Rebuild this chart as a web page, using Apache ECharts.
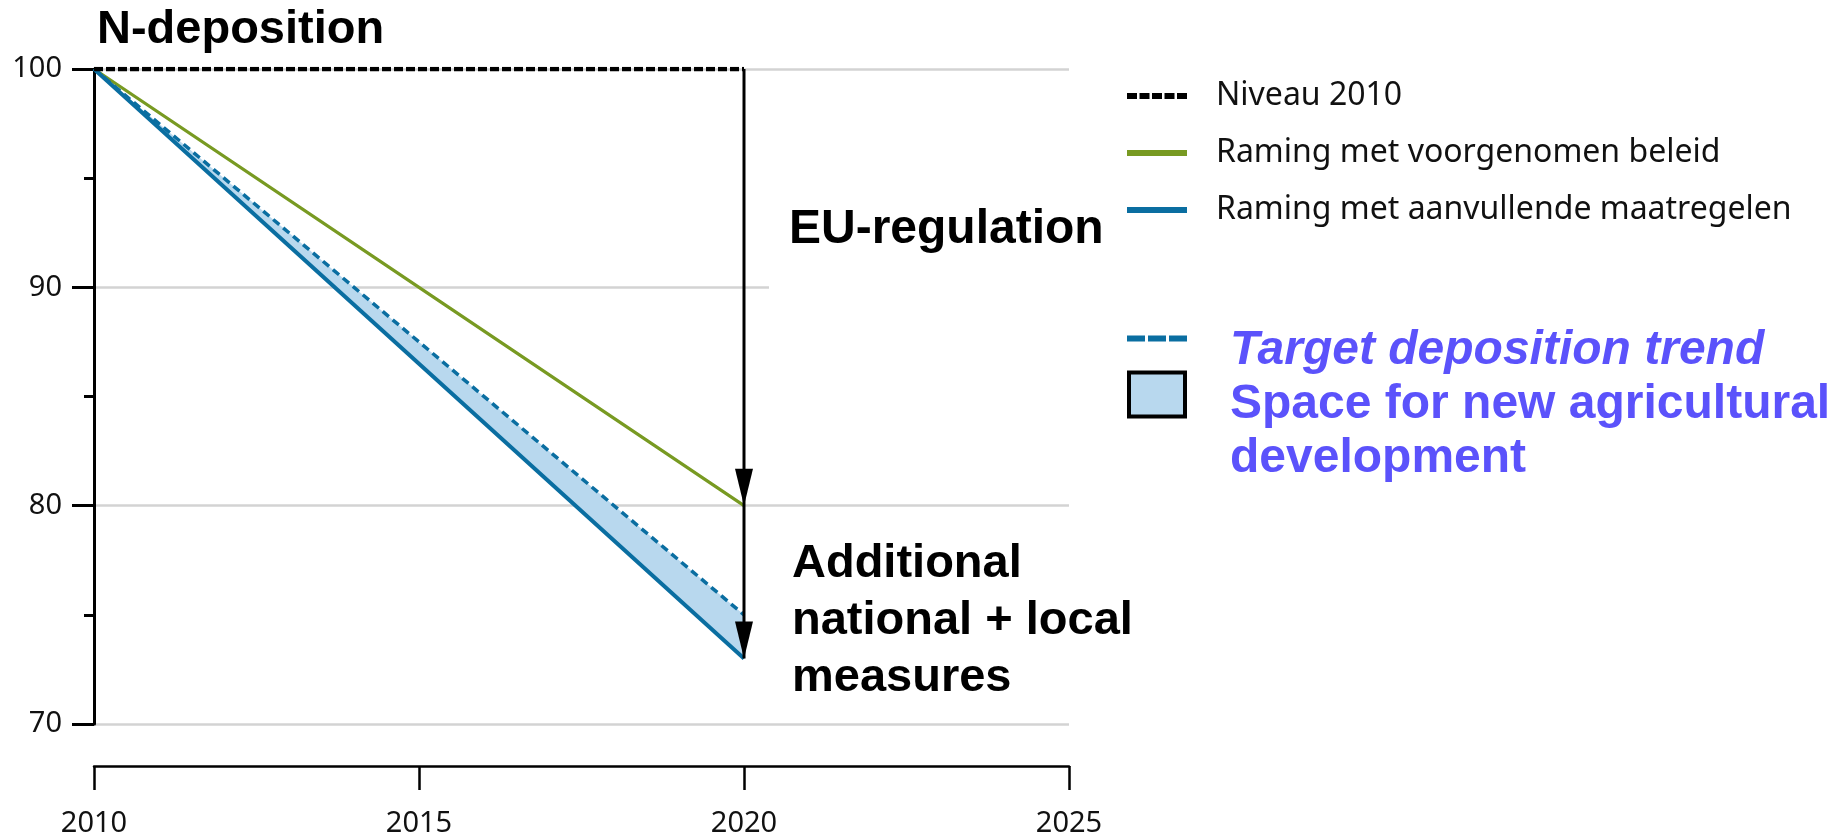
<!DOCTYPE html>
<html>
<head>
<meta charset="utf-8">
<script src="https://cdn.jsdelivr.net/npm/echarts@6/dist/echarts.min.js"></script>
<style>
html,body{margin:0;padding:0;background:#fff;}
#chart{width:1846px;height:838px;}
</style>
</head>
<body>
<div id="chart"></div>
<script>
// ---- data ----
const xCategories = ['2010', '2015', '2020', '2025'];   // x tick labels
const years = ['2010', '2015', '2020'];                  // years with values
const niveau2010 = [100, 100, 100];
const voorgenomen = [100, 90, 80];
const aanvullende = [100, 86.5, 73];
const target = [100, 87.5, 75];
const yTicks = [70, 80, 90, 100];
const arrowYear = '2020';
const arrowStops = [100, 80, 73];

const names = {
  niveau: 'Niveau 2010',
  voor: 'Raming met voorgenomen beleid',
  aanv: 'Raming met aanvullende maatregelen',
  target: 'Target deposition trend',
  space: 'Space for new agricultural development'
};
const texts = {
  title: 'N-deposition',
  eu: 'EU-regulation',
  additional: 'Additional\nnational + local\nmeasures'
};

const band = years.map((y, i) => +(target[i] - aanvullende[i]).toFixed(2));

const cBlack = '#000000', cGreen = '#789a22', cBlue = '#0a6ea1', cFill = '#b8d8ee', cPurple = '#5b52fb';
const arrowHead = 'path://M0 0L18 0L9 37Z';

const arrowData = arrowStops.map((v, i) => i === 0
  ? {value: [arrowYear, v], symbol: 'none'}
  : {value: [arrowYear, v], symbol: arrowHead, symbolSize: [18, 37], symbolOffset: [0, -18.5]});

const chart = echarts.init(document.getElementById('chart'), null, {renderer: 'canvas'});
chart.setOption({
  animation: false,
  backgroundColor: '#ffffff',
  title: {
    text: texts.title, left: 97, top: 7, padding: 0,
    textStyle: {fontFamily: 'Liberation Sans', fontWeight: 'bold', fontSize: 47, color: cBlack}
  },
  grid: {left: 94, top: 69, width: 975, height: 655, containLabel: false, outerBoundsMode: 'none'},
  xAxis: {
    type: 'category', data: xCategories, boundaryGap: false,
    offset: 42,
    axisLine: {show: true, onZero: false, lineStyle: {color: cBlack, width: 2.5}},
    axisTick: {show: true, interval: 0, length: 24, lineStyle: {color: cBlack, width: 2.5}},
    axisLabel: {interval: 0, margin: 43, fontFamily: 'Noto Sans', fontSize: 29, color: '#111'},
    splitLine: {show: false}
  },
  yAxis: {
    type: 'value', min: yTicks[0], max: yTicks[yTicks.length - 1], interval: yTicks[1] - yTicks[0],
    axisLine: {show: true, onZero: false, lineStyle: {color: cBlack, width: 3}},
    axisTick: {show: true, length: 22, lineStyle: {color: cBlack, width: 3}},
    minorTick: {show: true, splitNumber: 2, length: 10, lineStyle: {color: cBlack, width: 3}},
    axisLabel: {margin: 32, fontFamily: 'Noto Sans', fontSize: 29, color: '#111'},
    splitLine: {show: true, lineStyle: {color: '#d3d3d3', width: 2.5}},
    minorSplitLine: {show: false}
  },
  legend: [
    {
      left: 1127, top: 80, orient: 'vertical', padding: 0, itemGap: 25,
      itemWidth: 60, itemHeight: 6, selectedMode: false,
      textStyle: {fontFamily: 'Noto Sans', fontSize: 32, color: '#111', padding: [0, 0, 0, 24]},
      data: [
        {name: names.niveau, icon: 'path://M0 0h10v6h-10z M12.5 0h10v6h-10z M25 0h10v6h-10z M37.5 0h10v6h-10z M50 0h10v6h-10z',
         itemStyle: {color: cBlack, borderWidth: 0}},
        {name: names.voor, icon: 'rect', itemStyle: {color: cGreen, borderWidth: 0}},
        {name: names.aanv, icon: 'rect', itemStyle: {color: cBlue, borderWidth: 0}}
      ]
    },
    {
      left: 1127, top: 314, orient: 'vertical', padding: 0,
      itemWidth: 60, itemHeight: 6, selectedMode: false,
      formatter: (n) => '{g| }\n{t|' + n + '}',
      textStyle: {
        padding: [0, 0, 0, 38], color: cPurple,
        rich: {
          g: {fontSize: 1, lineHeight: 25},
          t: {fontFamily: 'Liberation Sans', fontWeight: 'bold', fontStyle: 'italic', fontSize: 48, lineHeight: 48, color: cPurple}
        }
      },
      data: [
        {name: names.target, icon: 'path://M0 0h18v6h-18z M21 0h18v6h-18z M42 0h18v6h-18z',
         itemStyle: {color: cBlue, borderWidth: 0}}
      ]
    },
    {
      left: 1127, top: 340, orient: 'vertical', padding: 0,
      itemWidth: 56, itemHeight: 44, selectedMode: false,
      formatter: (n) => {
        const k = n.lastIndexOf(' ');
        return '{g| }\n{s|' + n.slice(0, k) + '}\n{s|' + n.slice(k + 1) + '}';
      },
      textStyle: {
        padding: [0, 0, 0, 40], color: cPurple,
        rich: {
          g: {fontSize: 1, lineHeight: 74},
          s: {fontFamily: 'Liberation Sans', fontWeight: 'bold', fontSize: 48, lineHeight: 54, color: cPurple}
        }
      },
      data: [
        {name: names.space, icon: 'rect', itemStyle: {color: cFill, borderColor: cBlack, borderWidth: 4}}
      ]
    }
  ],
  graphic: [
    {
      type: 'text', z: 100,
      style: {
        x: 769, y: 201, text: texts.eu,
        font: 'bold 48px "Liberation Sans"', fill: cBlack,
        backgroundColor: '#ffffff', padding: [5, 5, 38, 20], lineHeight: 48,
        verticalAlign: 'top', textVerticalAlign: 'top', align: 'left', textAlign: 'left'
      }
    },
    {
      type: 'text', z: 100,
      style: {
        x: 792, y: 621, text: texts.additional,
        font: 'bold 47px "Liberation Sans"', fill: cBlack, lineHeight: 57,
        verticalAlign: 'middle', textVerticalAlign: 'middle', align: 'left', textAlign: 'left'
      }
    }
  ],
  series: [
    {
      name: '_base', type: 'line', stack: 'band', data: aanvullende,
      symbol: 'none', silent: true, lineStyle: {width: 0, opacity: 0}, z: 2
    },
    {
      name: names.space, type: 'line', stack: 'band', data: band,
      symbol: 'none', silent: true, lineStyle: {width: 0, opacity: 0},
      itemStyle: {color: cFill},
      areaStyle: {color: cFill, opacity: 1}, z: 2
    },
    {
      name: names.voor, type: 'line', data: voorgenomen, symbol: 'none',
      lineStyle: {color: cGreen, width: 3.2}, itemStyle: {color: cGreen}, z: 3
    },
    {
      name: names.aanv, type: 'line', data: aanvullende, symbol: 'none',
      lineStyle: {color: cBlue, width: 4}, itemStyle: {color: cBlue}, z: 4
    },
    {
      name: names.target, type: 'line', data: target, symbol: 'none',
      lineStyle: {color: cBlue, width: 3.5, type: [8, 5]}, itemStyle: {color: cBlue}, z: 5
    },
    {
      name: names.niveau, type: 'line', data: niveau2010, symbol: 'none',
      lineStyle: {color: cBlack, width: 4.5, type: [9, 3]}, itemStyle: {color: cBlack}, z: 6
    },
    {
      name: '_arrows', type: 'line', data: arrowData, showAllSymbol: true, silent: true,
      lineStyle: {color: cBlack, width: 3}, itemStyle: {color: cBlack},
      emphasis: {disabled: true}, z: 10
    }
  ]
});
</script>
</body>
</html>
